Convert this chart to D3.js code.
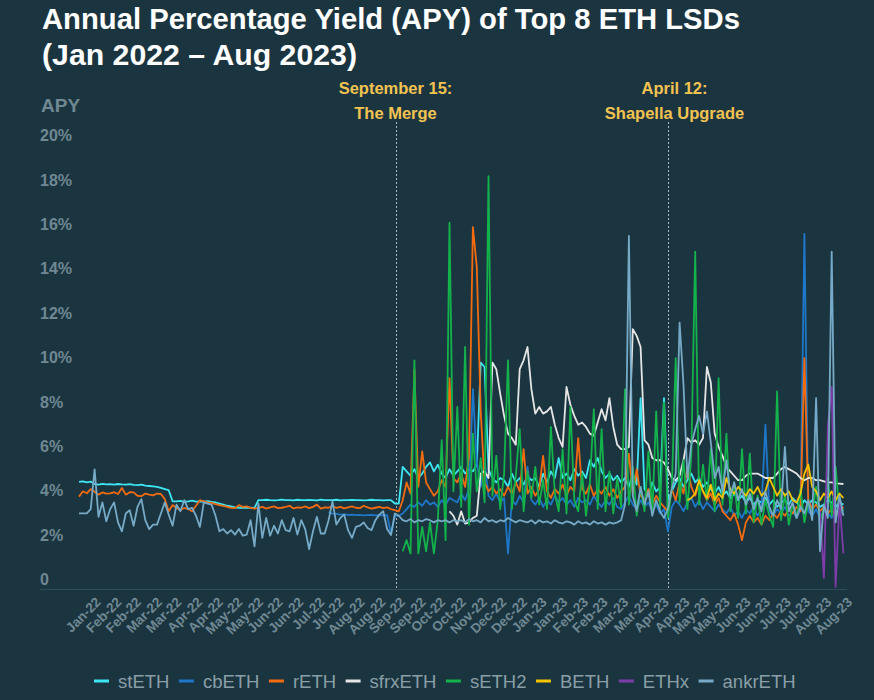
<!DOCTYPE html>
<html><head><meta charset="utf-8">
<script src="https://cdn.jsdelivr.net/npm/d3@7"></script>
<style>
html,body{margin:0;padding:0;background:#1b3540;}
svg{display:block;}
text{font-family:"Liberation Sans",Arial,Helvetica,sans-serif;}
</style></head><body>
<svg id="chart" width="874" height="700"></svg>
<script>
// ---------------- DATA ----------------
const seriesNames  = ["stETH","cbETH","rETH","sfrxETH","sETH2","BETH","ETHx","ankrETH"];
const seriesColors = ["#3ee6f2","#1f77c9","#f26b0f","#e6e6e6","#13b24b","#f6c300","#7d3ca8","#76aac6"];
const seriesStart  = ["2022-01-14","2022-07-25","2022-01-14","2022-10-26","2022-09-20","2023-04-27","2023-08-07","2022-01-14"];
const stepDays = 3; // one value every 3 days

const stETH = [4.83,4.85,4.80,4.84,
4.72,4.70,4.74,4.71,4.72,4.70,4.73,4.71,4.70,4.72,4.69,4.68,4.70,4.66,4.64,4.62,4.60,4.55,4.50,
4.45,3.95,
3.95,3.97,3.93,3.95,3.98,3.94,3.95,3.93,3.96,3.92,3.90,
3.85,3.80,3.75,3.72,3.68,3.66,3.65,
3.65,3.66,3.65,
4.00,
4.00,4.02,4.00,3.99,4.00,4.03,4.00,4.00,3.99,4.02,4.00,4.00,4.01,4.00,3.99,4.03,4.00,4.00,4.00,4.02,3.99,4.00,4.00,4.01,4.00,4.00,3.99,4.00,4.02,4.00,4.00,3.99,4.00,4.00,
3.85,3.85,
5.5,5.3,5.1,5.4,5.0,5.2,5.5,5.7,5.3,5.6,
5.2,5.0,5.4,5.1,5.3,5.5,5.2,5.4,5.3,5.6,
10.2,10.0,5.4,5.0,4.8,5.0,4.9,4.6,5.2,4.8,
5.0,4.7,5.1,4.9,5.0,4.6,5.2,4.8,5.3,5.0,
5.9,5.0,5.2,4.9,5.4,5.1,5.3,5.0,5.8,5.5,
5.9,5.3,5.0,5.2,4.9,5.1,4.8,5.0,4.6,5.2,
4.7,8.6,4.5,4.2,4.8,4.4,4.6,8.6,4.0,4.4,
4.8,5.0,4.6,4.9,5.2,4.8,5.0,4.6,4.8,4.5,
4.3,4.6,4.2,4.4,4.1,4.3,4.0,4.2,3.9,4.1,
3.8,4.0,3.9,4.1,3.8,4.0,3.7,3.9,4.0,3.8,
4.1,3.9,3.7,4.0,3.8,4.0,3.9,3.7,3.8,4.0,
3.9,3.7,3.9,3.8];

const cbETH = [3.45,3.40,3.38,3.35,3.36,3.34,3.35,3.33,3.34,3.32,
3.33,3.34,3.32,3.33,3.32,3.33,2.50,3.30,3.30,
3.4,3.6,3.8,3.7,3.9,3.75,4.0,3.8,3.9,3.7,
4.0,3.8,4.1,4.0,3.9,4.3,4.0,4.5,9.0,5.7,
4.6,5.8,4.2,4.0,4.3,3.9,4.1,1.6,4.0,3.8,
4.2,3.9,5.5,4.0,3.8,4.1,3.7,4.0,3.8,4.2,
3.9,4.1,3.8,4.0,3.7,4.1,3.9,4.0,3.8,4.2,
3.9,3.7,4.0,3.8,4.1,3.7,3.6,3.9,4.2,3.8,
3.6,4.0,3.7,3.9,3.5,3.8,3.4,3.6,2.6,3.7,
4.0,3.8,3.5,3.9,4.1,3.7,4.0,3.6,3.9,3.7,
3.5,3.8,3.6,3.4,3.7,3.3,3.5,3.2,3.6,3.4,
3.7,3.3,3.6,7.4,3.5,3.3,3.6,3.4,3.7,3.3,
3.5,3.2,3.6,16.0,3.5,3.3,3.6,3.2,3.5,3.4,
3.2,3.5,3.3,3.6];

const rETH = [4.16,4.40,4.31,4.50,4.38,4.25,4.35,4.30,4.31,4.36,
4.28,4.55,4.25,4.36,4.35,4.20,4.18,4.30,4.25,4.22,
4.30,4.28,4.05,3.50,3.78,3.65,3.56,3.65,3.60,3.50,
3.75,4.00,3.95,3.90,3.88,3.82,3.78,3.74,3.70,3.65,
3.64,3.78,3.70,3.72,3.65,3.62,
3.65,3.70,3.62,3.68,3.72,3.64,3.66,3.70,3.75,3.63,
3.68,3.66,3.72,3.64,3.70,3.80,3.62,3.68,3.66,3.74,
3.65,3.70,3.63,3.68,3.72,3.66,3.64,3.75,3.68,3.62,
3.66,3.70,3.64,3.68,3.60,
3.55,3.50,
4.0,4.8,4.3,9.9,4.6,6.2,4.8,4.5,4.2,4.4,
4.9,4.6,9.5,5.0,4.8,5.2,4.6,6.0,16.3,14.5,
8.0,4.8,4.4,4.6,4.3,4.5,4.2,4.6,4.3,4.8,
4.4,6.3,4.3,4.6,4.2,4.5,6.0,4.4,4.1,4.5,
4.3,4.7,4.2,4.6,4.4,6.8,4.5,4.3,4.7,4.2,
4.5,4.3,4.6,4.2,4.5,4.1,4.4,4.6,6.1,4.3,
5.4,4.2,4.0,4.5,3.8,4.2,3.9,3.7,3.5,4.5,
4.0,4.8,4.3,5.5,4.6,4.2,4.8,4.4,4.0,4.3,
3.8,4.1,3.5,3.3,3.1,3.4,2.9,2.2,3.0,3.3,
3.0,3.2,2.9,3.3,3.1,3.4,3.2,3.5,3.3,3.6,
3.4,3.7,3.5,10.4,4.0,3.6,3.8,3.5,3.7,3.4,
3.6,3.3,3.5,3.7];

const sfrxETH = [3.5,3.3,2.9,3.5,2.95,3.0,3.2,3.3,5.2,5.3,
5.0,10.2,9.9,8.8,7.8,7.0,6.8,6.5,9.9,10.3,
10.9,9.0,7.9,8.2,7.9,8.0,8.2,7.4,6.8,6.4,
9.1,8.3,7.8,7.4,7.5,7.3,7.0,6.9,7.5,8.1,
7.6,8.6,7.3,6.5,6.3,6.3,6.4,11.7,11.4,10.9,
6.7,6.5,5.9,5.8,5.8,5.7,5.4,5.0,4.9,5.1,
5.8,6.8,6.6,6.7,6.5,6.8,10.0,9.3,7.0,6.4,
6.0,5.5,5.3,5.1,4.9,4.9,5.1,5.2,5.2,5.2,
5.1,5.0,5.0,5.0,5.2,5.4,5.5,5.4,5.3,5.2,
5.0,4.9,5.0,5.0,4.9,4.9,4.85,4.8,4.8,4.75,
4.75,4.73];

const sETH2 = [1.7,2.2,1.6,10.3,1.6,2.8,1.7,3.0,1.6,3.1,
6.7,2.2,16.5,4.4,8.2,3.7,10.9,2.9,7.0,4.4,
5.9,3.9,18.6,4.2,6.0,3.6,5.2,10.3,3.6,5.1,
7.2,3.5,5.3,4.1,5.5,3.8,4.9,3.6,7.3,4.3,
3.5,6.3,3.4,8.2,4.0,3.5,5.2,3.3,4.8,8.1,
3.6,7.2,3.5,5.3,3.4,5.0,3.7,9.0,3.8,5.5,
3.3,4.6,3.5,6.2,3.4,8.0,3.6,8.4,3.2,4.5,
10.4,3.9,5.8,3.6,6.0,15.2,3.8,5.6,4.0,6.3,
3.5,9.5,3.8,7.0,3.5,4.8,3.2,6.3,3.4,6.1,
3.0,4.2,2.9,4.0,3.3,2.8,8.9,3.1,4.3,2.9,
3.8,3.2,4.5,3.0,3.9,3.4,4.6,3.1,3.6,5.0,
3.3,5.5,3.4,3.6];

const BETH = [4.0,4.1,4.3,4.9,4.4,4.1,4.7,4.0,4.3,4.1,
5.0,4.5,4.3,4.6,4.4,4.2,4.5,4.3,4.6,4.2,
4.4,5.0,4.6,4.2,4.5,4.2,4.4,4.0,3.9,4.3,
5.2,5.6,4.6,4.4,4.0,4.3,4.1,4.4,4.0,4.3,
4.1];

const ETHx = [3.5,0.5,7.3,9.1,0.1,4.0,1.6];

const ankrETH = [3.41,3.41,3.41,3.6,5.39,3.25,3.9,3.05,3.6,3.9,
3.0,2.6,3.4,3.55,2.85,3.7,4.05,3.1,2.7,2.9,
2.9,3.4,3.9,3.35,2.85,3.8,3.5,4.0,3.6,3.65,
3.3,2.8,3.9,3.85,3.8,3.3,2.6,2.7,2.5,2.65,
2.45,2.7,2.4,2.45,3.1,1.92,3.86,2.3,3.2,2.4,
2.85,2.5,3.1,2.65,2.6,3.2,2.45,3.1,2.7,1.8,
2.6,3.25,2.5,2.5,3.1,3.95,2.9,3.2,3.35,2.65,
2.3,2.8,2.85,3.0,2.75,2.65,3.1,3.35,3.5,2.7,
2.43,3.4,3.3,
3.1,3.05,3.15,3.0,3.1,3.05,3.15,3.1,3.0,3.1,
3.05,3.1,3.0,3.1,3.05,3.1,3.0,3.15,3.05,3.1,
3.0,3.2,3.05,3.1,3.0,3.1,3.05,3.2,3.1,3.0,
3.1,3.05,3.0,3.1,2.95,3.1,3.0,3.05,2.95,3.1,
3.0,2.95,3.05,3.0,2.9,3.05,2.95,3.0,2.9,3.05,
2.95,3.0,2.9,3.0,2.95,3.0,3.1,3.8,15.9,4.2,
3.5,4.6,3.8,4.4,3.3,4.0,3.5,3.2,3.6,4.5,
5.2,12.0,9.2,5.0,6.5,7.2,7.8,7.0,8.0,6.6,
5.0,5.5,4.4,5.8,4.2,4.8,4.0,4.5,3.8,4.3,
3.6,4.1,3.5,4.4,3.7,3.3,4.0,3.6,6.4,3.5,
3.9,3.2,3.7,3.4,4.0,3.1,8.6,1.7,3.8,3.2,
15.2,3.0,4.2,3.3];

const seriesValues = [stETH, cbETH, rETH, sfrxETH, sETH2, BETH, ETHx, ankrETH];

const yTickValues = [0,2,4,6,8,10,12,14,16,18,20];
const xTickDates = ["2022-01-31","2022-02-16","2022-03-03","2022-03-19","2022-04-03","2022-04-19","2022-05-05","2022-05-20","2022-06-05","2022-06-20",
"2022-07-06","2022-07-22","2022-08-06","2022-08-22","2022-09-07","2022-09-22","2022-10-08","2022-10-23","2022-11-08","2022-11-24",
"2022-12-09","2022-12-25","2023-01-09","2023-01-25","2023-02-10","2023-02-25","2023-03-13","2023-03-29","2023-04-13","2023-04-29",
"2023-05-14","2023-05-30","2023-06-15","2023-06-30","2023-07-16","2023-07-31","2023-08-16","2023-09-01"];
const xTickLabels = ["Jan-22","Feb-22","Feb-22","Mar-22","Mar-22","Apr-22","Apr-22","May-22","May-22","Jun-22",
"Jun-22","Jul-22","Jul-22","Aug-22","Aug-22","Sep-22","Sep-22","Oct-22","Oct-22","Nov-22",
"Dec-22","Dec-22","Jan-23","Jan-23","Feb-23","Feb-23","Mar-23","Mar-23","Apr-23","Apr-23",
"May-23","May-23","Jun-23","Jun-23","Jul-23","Jul-23","Aug-23","Aug-23"];

const eventDates  = ["2022-09-15","2023-04-12"];
const eventLine1  = ["September 15:","April 12:"];
const eventLine2  = ["The Merge","Shapella Upgrade"];

const titleLines = ["Annual Percentage Yield (APY) of Top 8 ETH LSDs","(Jan 2022 \u2013 Aug 2023)"];

// ---------------- CHART ----------------
const parse = d3.utcParse("%Y-%m-%d");
const svg = d3.select("#chart");
const W = 874, H = 700;
svg.append("rect").attr("width",W).attr("height",H).attr("fill","#1b3540");

const x = d3.scaleUtc().domain([parse("2022-01-14"), parse("2023-08-27")]).range([79, 846]);
const y = d3.scaleLinear().domain([0,20]).range([589,145]);

// title
const titleWidths = [698, 315];
const titleBase = [29, 65];
titleLines.forEach((t,i)=>{
  svg.append("text").attr("x",42).attr("y",titleBase[i])
    .attr("fill","#ffffff").attr("font-size",29).attr("font-weight",700)
    .attr("textLength",titleWidths[i]).attr("lengthAdjust","spacingAndGlyphs")
    .text(t);
});

// APY label
svg.append("text").attr("x",41).attr("y",112).attr("fill","#6f8893")
  .attr("font-size",19).attr("font-weight",700).text("APY");

// y axis (labels sit above their value position)
const yAxis = d3.axisRight(y).tickValues(yTickValues).tickSize(0).tickPadding(0)
  .tickFormat(d => d===0 ? "0" : d + "%");
const gy = svg.append("g").attr("transform","translate(40,0)").call(yAxis);
gy.select(".domain").remove();
gy.selectAll("text").attr("x",0).attr("y",-10).attr("dy","0.35em")
  .attr("fill","#6f8893").attr("font-size",16).attr("font-weight",700)
  .attr("font-family","'Liberation Sans',Arial,sans-serif").attr("text-anchor","start");

// baseline
svg.append("line").attr("x1",40).attr("x2",847).attr("y1",y(0)+0.5).attr("y2",y(0)+0.5)
  .attr("stroke","#2f4c58").attr("stroke-width",1);

// x axis
const xAxis = d3.axisBottom(x).tickValues(xTickDates.map(parse)).tickSize(0)
  .tickFormat((d,i)=>xTickLabels[i]);
const gx = svg.append("g").attr("transform",`translate(0,${y(0)})`).call(xAxis);
gx.select(".domain").remove();
gx.selectAll("text").attr("x",0).attr("y",0).attr("dy",0)
  .attr("transform","translate(0,14) rotate(-45)").attr("text-anchor","end")
  .attr("fill","#6f8893").attr("font-size",13.5).attr("font-weight",700)
  .attr("font-family","'Liberation Sans',Arial,sans-serif");

// event lines + annotations
const annOffset = [-1, 6];
eventDates.forEach((ds,i)=>{
  const ex = Math.round(x(parse(ds)))+0.5;
  svg.append("line").attr("x1",ex).attr("x2",ex).attr("y1",122).attr("y2",y(0))
    .attr("stroke","#aab9bf").attr("stroke-width",1).attr("stroke-dasharray","2,2");
  svg.append("text").attr("x",ex+annOffset[i]).attr("y",94).attr("text-anchor","middle")
    .attr("fill","#f2c350").attr("font-size",16.5).attr("font-weight",700).text(eventLine1[i]);
  svg.append("text").attr("x",ex+annOffset[i]).attr("y",119).attr("text-anchor","middle")
    .attr("fill","#f2c350").attr("font-size",16.5).attr("font-weight",700).text(eventLine2[i]);
});

// series lines
const line = d3.line().x(d=>x(d.date)).y(d=>y(d.v));
const gLines = svg.append("g");
seriesNames.forEach((name,si)=>{
  const start = parse(seriesStart[si]);
  const pts = seriesValues[si].map((v,k)=>({date: d3.utcDay.offset(start, k*stepDays), v}));
  gLines.append("path").datum(pts).attr("d",line)
    .attr("fill","none").attr("stroke",seriesColors[si]).attr("stroke-width",1.8)
    .attr("stroke-linejoin","round");
});

// legend
const lg = svg.append("g");
let lx = 94;
const ly = 681;
seriesNames.forEach((name,si)=>{
  lg.append("line").attr("x1",lx).attr("x2",lx+15).attr("y1",ly).attr("y2",ly)
    .attr("stroke",seriesColors[si]).attr("stroke-width",3);
  const t = lg.append("text").attr("x",lx+24).attr("y",ly+6.5)
    .attr("fill","#8a9ea7").attr("font-size",18.5).text(name);
  lx = lx + 24 + t.node().getComputedTextLength() + 9.5;
});
</script>
</body></html>
